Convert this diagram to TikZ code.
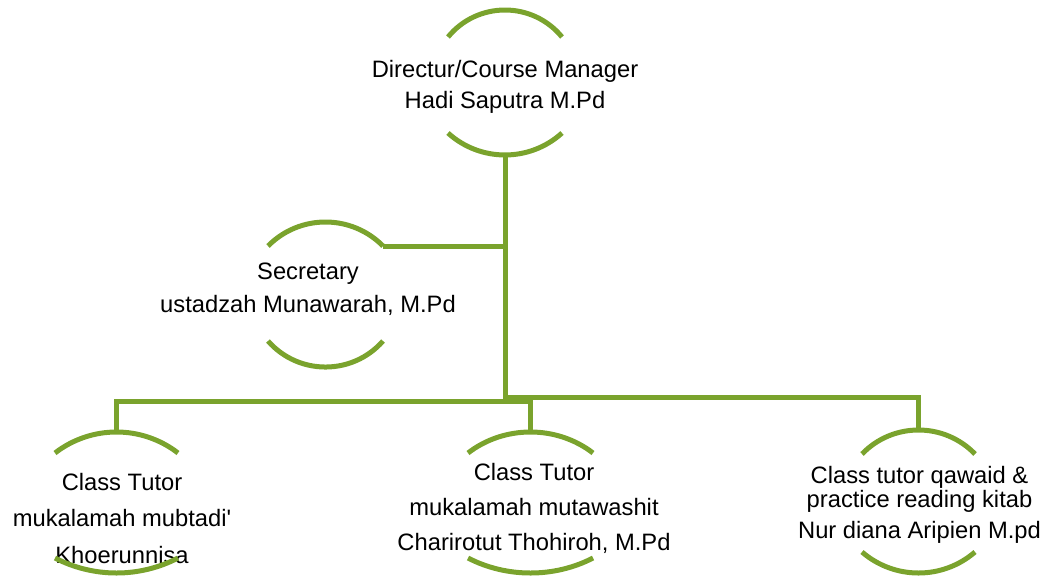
\documentclass[tikz,border=0pt]{standalone}
\usepackage{fontspec}
\setmainfont{Liberation Sans}
\usetikzlibrary{positioning}
\definecolor{leaf}{HTML}{7AA32D}

\begin{document}
\begin{tikzpicture}[x=0.75pt, y=-0.75pt,
                   rim/.style={draw=leaf, line width=3.75pt},
                   link/.style={draw=leaf, line width=3.75pt},
                   unit/.style={anchor=north, align=center, inner sep=0pt,
                                font=\fontsize{17.8}{#1}\selectfont},
                   unit/.default=26pt]
  \useasboundingbox (0,0) rectangle (1049,579);

  % texts
  \node[unit=23.25pt] (director) at (505,59.7)
    {Directur/Course Manager\\Hadi Saputra M.Pd};
  \node[unit=24.75pt] (secretary) at (308,262.7)
    {Secretary\\ustadzah Munawarah, M.Pd};
  \node[unit=27.4pt] (tutorA) at (122,472.7)
    {Class Tutor\\mukalamah mubtadi\textquotesingle\\Khoerunnisa};
  \node[unit=26.25pt] (tutorB) at (534,462.7)
    {Class Tutor\\mukalamah mutawashit\\Charirotut Thohiroh, M.Pd};
  \node[unit=18pt] (tutorC) at (919.5,465.7)
    {Class tutor qawaid \&\\practice reading kitab\\[5.25pt]Nur diana Aripien M.pd};

  % rims round the texts
  \draw[rim] (448,37) .. controls (477.5,1) and (532.5,1) .. (562,37);
  \draw[rim] (448,133) .. controls (480.3,162.3) and (529.7,162.3) .. (562,133);
  \draw[rim] (268,246) .. controls (299.7,214) and (351.3,214) .. (383,246);
  \draw[rim] (268,341) .. controls (298.5,375.7) and (352.5,375.7) .. (383,341);
  \draw[rim] (55,453) .. controls (91.2,425) and (141.8,425) .. (178,453);
  \draw[rim] (55,558) .. controls (93.6,578) and (139.4,578) .. (178,558);
  \draw[rim] (468,453) .. controls (504.2,425) and (556.8,425) .. (593,453);
  \draw[rim] (468,558) .. controls (506.6,578) and (554.4,578) .. (593,558);
  \draw[rim] (862,454) .. controls (892.9,422) and (944.1,422) .. (975,454);
  \draw[rim] (862,552) .. controls (894.5,580) and (942.5,580) .. (975,552);

  \coordinate (dirfoot) at (505,155);
  \coordinate (secside) at (383,246);
  \coordinate (tutorAhead) at (116.5,432);
  \coordinate (tutorBhead) at (530.5,432);
  \coordinate (tutorChead) at (918.5,430);

  % connectors
  \draw[link] (dirfoot) -- (dirfoot |- 0,400);
  \draw[link] (secside) -- (dirfoot |- secside);
  \draw[link] (dirfoot |- 0,397) -| (tutorChead);
  \draw[link] (tutorAhead) |- (tutorBhead |- 0,401) -- (tutorBhead);
\end{tikzpicture}
\end{document}
